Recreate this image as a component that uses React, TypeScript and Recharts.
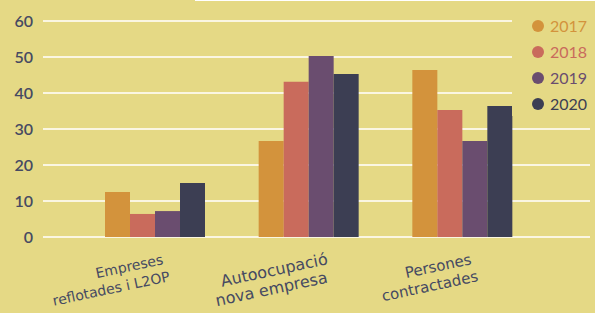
import React from 'react'
import { BarChart, Bar, XAxis, YAxis, CartesianGrid } from 'recharts'

const categories = ['Empreses\nreflotades i L2OP', 'Autoocupació\nnova empresa', 'Persones\ncontractades']
const years = ['2017', '2018', '2019', '2020']
const v2017 = [12.5, 26.7, 46.4]
const v2018 = [6.4, 43.1, 35.3]
const v2019 = [7.2, 50.3, 26.7]
const v2020 = [15.0, 45.3, 36.4]
const yTicks = [0, 10, 20, 30, 40, 50, 60]

const seriesValues = [v2017, v2018, v2019, v2020]
const colors = ['#D3933C', '#C96B5C', '#6A4D6F', '#3C3E53']
const bg = '#E5D985'
const textColor = '#464A62'
const font = 'Lato, "Open Sans", sans-serif'
const labelFont = '"DejaVu Sans", sans-serif'

// per-label tweaks so the rotated labels sit like the original
const labelSize = [14, 16, 15]
const labelShift = [9, 20, 10]
const line2Shift = [3, -4, 3]

const data = categories.map((name, i) => {
    const row: Record<string, string | number> = { name }
    years.forEach((y, k) => {
        row[y] = seriesValues[k][i]
    })
    return row
})

const CategoryTick = (props: any) => {
    const { x, y, payload, index } = props
    const lines = String(payload.value).split('\n')
    return (
        <g transform={`translate(${x + labelShift[index]},${y + 27}) rotate(-12)`}>
            <text
                textAnchor="end"
                fill={textColor}
                fontSize={labelSize[index]}
                fontWeight={500}
                fontFamily={labelFont}
            >
                {lines.map((l, i) => (
                    <tspan key={i} x={i === 0 ? 0 : line2Shift[index]} dy={i === 0 ? 0 : 18}>
                        {l}
                    </tspan>
                ))}
            </text>
        </g>
    )
}

export default function App() {
    return (
        <div
            style={{
                position: 'absolute',
                left: 0,
                top: 0,
                width: 595,
                height: 313,
                background: bg,
                overflow: 'hidden',
                fontFamily: font,
            }}
        >
            <BarChart
                width={595}
                height={313}
                data={data}
                margin={{ top: 21, right: 5, bottom: 0, left: 0 }}
                barGap={0}
                barCategoryGap={27}
            >
                <CartesianGrid vertical={false} stroke="#FAF6E2" strokeWidth={2} />
                <XAxis
                    dataKey="name"
                    axisLine={false}
                    tickLine={false}
                    tickSize={0}
                    tickMargin={0}
                    height={76}
                    padding={{ left: 35, right: 51 }}
                    interval={0}
                    tick={<CategoryTick />}
                />
                <YAxis
                    width={43}
                    domain={[0, 60]}
                    ticks={yTicks}
                    axisLine={false}
                    tickLine={false}
                    tickSize={0}
                    tickMargin={10}
                    tick={{ fill: textColor, fontSize: 16, fontWeight: 600, fontFamily: font }}
                />
                {years.map((y, k) => (
                    <Bar key={y} dataKey={y} fill={colors[k]} isAnimationActive={false} />
                ))}
            </BarChart>

            {/* legend, covers the grid on the right */}
            <div
                style={{
                    position: 'absolute',
                    left: 512,
                    top: 2,
                    width: 83,
                    height: 114,
                    background: bg,
                }}
            >
                {years.map((y, k) => (
                    <div
                        key={y}
                        style={{
                            position: 'absolute',
                            left: 20,
                            top: 14 + k * 26,
                            display: 'flex',
                            alignItems: 'center',
                            gap: 6,
                            fontSize: 16,
                            color: colors[k],
                            lineHeight: '20px',
                        }}
                    >
                        <span
                            style={{
                                width: 12,
                                height: 12,
                                borderRadius: '50%',
                                background: colors[k],
                                display: 'inline-block',
                            }}
                        />
                        {y}
                    </div>
                ))}
            </div>

            <div
                style={{
                    position: 'absolute',
                    left: 195,
                    top: 0,
                    width: 400,
                    height: 1,
                    background: '#FFFFFF',
                }}
            />
        </div>
    )
}
